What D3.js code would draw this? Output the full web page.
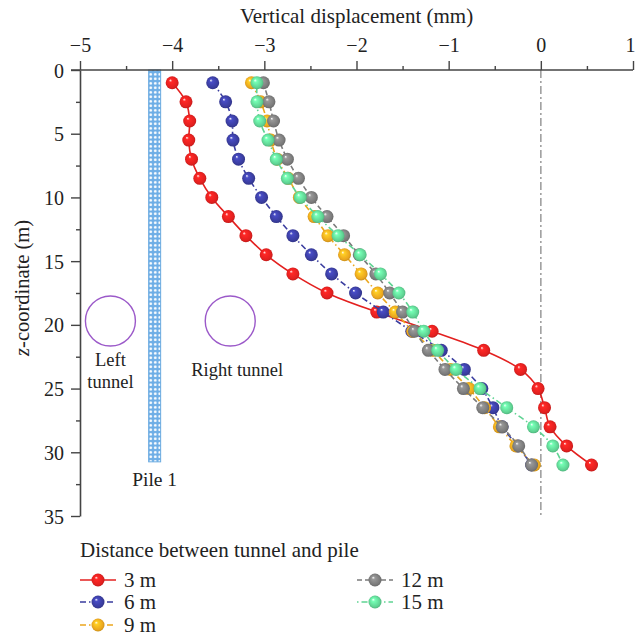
<!DOCTYPE html>
<html>
<head>
<meta charset="utf-8">
<script src="https://cdn.jsdelivr.net/npm/d3@7"></script>
<style>
  body { margin: 0; background: #fff; }
  text { font-family: "Liberation Serif", "Times New Roman", serif; fill: #222; }
</style>
</head>
<body>
<svg id="chart" width="636" height="640"></svg>
<script>
// depth of the measuring points (m)
const depth = [1, 2.5, 4, 5.5, 7, 8.5, 10, 11.5, 13, 14.5, 16, 17.5, 19, 20.5, 22, 23.5, 25, 26.5, 28, 29.5, 31];

// vertical displacement (mm) for each tunnel-pile distance
const d3m  = [-4.00, -3.85, -3.81, -3.82, -3.79, -3.70, -3.57, -3.39, -3.20, -2.98, -2.69, -2.32, -1.78, -1.18, -0.62, -0.22, -0.03, 0.04, 0.10, 0.28, 0.55];
const d6m  = [-3.56, -3.42, -3.35, -3.34, -3.28, -3.17, -3.03, -2.87, -2.69, -2.49, -2.27, -2.01, -1.71, -1.40, -1.08, -0.83, -0.64, -0.52, -0.42, -0.25, -0.10];
const d9m  = [-3.14, -3.04, -2.97, -2.93, -2.86, -2.74, -2.62, -2.46, -2.31, -2.13, -1.95, -1.77, -1.58, -1.39, -1.17, -0.98, -0.78, -0.61, -0.45, -0.27, -0.07];
const d12m = [-3.01, -2.95, -2.90, -2.84, -2.75, -2.63, -2.49, -2.32, -2.14, -1.97, -1.79, -1.64, -1.50, -1.37, -1.22, -1.04, -0.84, -0.63, -0.42, -0.24, -0.10];
const d15m = [-3.08, -3.08, -3.05, -2.96, -2.87, -2.75, -2.61, -2.42, -2.20, -1.96, -1.74, -1.54, -1.39, -1.27, -1.12, -0.92, -0.66, -0.37, -0.08, 0.13, 0.24];

const seriesNames = ["3 m", "6 m", "9 m", "12 m", "15 m"];
const seriesValues = [d3m, d6m, d9m, d12m, d15m];

const xTicks = [-5, -4, -3, -2, -1, 0, 1];
const yTicks = [0, 5, 10, 15, 20, 25, 30, 35];

// pile and tunnels (in data units)
const pileX = -4.19, pileHalfWidth = 0.065, pileBottom = 30.75;
const tunnels = [{ name: "Left tunnel", x: -4.67, z: 19.7 }, { name: "Right tunnel", x: -3.37, z: 19.7 }];

const colors = ["#e3201f", "#3a3d9f", "#eba71e", "#7b7b7b", "#5fd393"];
const dashes = [null, "6,3,1.5,3", "6,3,1.5,3", "5,3", "1.5,3,6,3"];

const svg = d3.select("#chart");
const margin = { left: 80, top: 70, right: 3, bottom: 124 };
const width = 636 - margin.left - margin.right;
const height = 640 - margin.top - margin.bottom;

const x = d3.scaleLinear().domain([-5, 1]).range([margin.left, margin.left + width]);
const y = d3.scaleLinear().domain([0, 35]).range([margin.top, margin.top + height]);

const defs = svg.append("defs");

// glossy balls
colors.forEach(function (c, i) {
  const g = defs.append("radialGradient")
    .attr("id", "ball" + i)
    .attr("cx", "50%").attr("cy", "50%").attr("r", "55%")
    .attr("fx", "35%").attr("fy", "30%");
  g.append("stop").attr("offset", "0%").attr("stop-color", "#ffffff");
  g.append("stop").attr("offset", "22%").attr("stop-color", d3.color(c).brighter(0.6));
  g.append("stop").attr("offset", "75%").attr("stop-color", c);
  g.append("stop").attr("offset", "100%").attr("stop-color", d3.color(c).darker(0.6));
});

// dotted fill of the pile
const pat = defs.append("pattern")
  .attr("id", "pileFill")
  .attr("patternUnits", "userSpaceOnUse")
  .attr("width", 4.5).attr("height", 4.5);
pat.append("rect").attr("width", 4.5).attr("height", 4.5).attr("fill", "#6eaee6");
pat.append("circle").attr("cx", 2.25).attr("cy", 2.25).attr("r", 1.4).attr("fill", "#fff");

// zero line
svg.append("line")
  .attr("x1", x(0)).attr("x2", x(0))
  .attr("y1", y(0)).attr("y2", y(35))
  .attr("stroke", "#a0a0a0")
  .attr("stroke-width", 1.6)
  .attr("stroke-dasharray", "8,3,2,3");

// pile
svg.append("rect")
  .attr("x", x(pileX - pileHalfWidth))
  .attr("y", y(0))
  .attr("width", x(pileX + pileHalfWidth) - x(pileX - pileHalfWidth))
  .attr("height", y(pileBottom) - y(0))
  .attr("fill", "url(#pileFill)")
  .attr("stroke", "#6aaae0")
  .attr("stroke-width", 1);

svg.append("text")
  .attr("x", x(pileX))
  .attr("y", y(pileBottom) + 24)
  .attr("text-anchor", "middle")
  .style("font-size", "19.5px")
  .text("Pile 1");

// tunnels
svg.selectAll(".tunnel")
  .data(tunnels)
  .enter()
  .append("circle")
  .attr("class", "tunnel")
  .attr("cx", function (d) { return x(d.x); })
  .attr("cy", function (d) { return y(d.z); })
  .attr("r", 25)
  .attr("fill", "none")
  .attr("stroke", "#9b59c9")
  .attr("stroke-width", 1.4);

svg.append("text")
  .attr("x", x(tunnels[0].x))
  .attr("y", y(tunnels[0].z) + 45)
  .attr("text-anchor", "middle")
  .style("font-size", "18.5px")
  .text("Left");
svg.append("text")
  .attr("x", x(tunnels[0].x))
  .attr("y", y(tunnels[0].z) + 67)
  .attr("text-anchor", "middle")
  .style("font-size", "18.5px")
  .text("tunnel");
svg.append("text")
  .attr("x", x(tunnels[1].x) + 7)
  .attr("y", y(tunnels[1].z) + 55)
  .attr("text-anchor", "middle")
  .style("font-size", "18.5px")
  .text("Right tunnel");

// series
const line = d3.line()
  .x(function (d) { return x(d.v); })
  .y(function (d) { return y(d.z); })
  .curve(d3.curveCatmullRom);

seriesValues.forEach(function (vals, i) {
  const pts = vals.map(function (v, k) { return { v: v, z: depth[k] }; });
  const g = svg.append("g").attr("class", "series");
  g.append("path")
    .datum(pts)
    .attr("d", line)
    .attr("fill", "none")
    .attr("stroke", colors[i])
    .attr("stroke-width", 1.6)
    .attr("stroke-dasharray", dashes[i]);
  g.selectAll("circle")
    .data(pts)
    .enter()
    .append("circle")
    .attr("cx", function (d) { return x(d.v); })
    .attr("cy", function (d) { return y(d.z); })
    .attr("r", 6.5)
    .attr("fill", "url(#ball" + i + ")");
});

// axes
const axisColor = "#444";
const fmt = d3.format("d");

const xMinor = svg.append("g")
  .attr("transform", "translate(0," + margin.top + ")")
  .call(d3.axisTop(x).tickValues(d3.range(-4.5, 1, 1)).tickSize(4).tickFormat(""));
const xAxis = svg.append("g")
  .attr("transform", "translate(0," + margin.top + ")")
  .call(d3.axisTop(x).tickValues(xTicks).tickSize(9).tickSizeOuter(0).tickPadding(9).tickFormat(fmt));

const yMinor = svg.append("g")
  .attr("transform", "translate(" + margin.left + ",0)")
  .call(d3.axisLeft(y).tickValues(d3.range(2.5, 35, 5)).tickSize(4).tickFormat(""));
const yAxis = svg.append("g")
  .attr("transform", "translate(" + margin.left + ",0)")
  .call(d3.axisLeft(y).tickValues(yTicks).tickSize(9).tickSizeOuter(0).tickPadding(7).tickFormat(fmt));

[xMinor, xAxis, yMinor, yAxis].forEach(function (a) {
  a.select(".domain").attr("stroke", axisColor).attr("stroke-width", 1.6);
  a.selectAll(".tick line").attr("stroke", axisColor).attr("stroke-width", 1.4);
  a.selectAll(".tick text")
    .style("font-family", "'Liberation Serif', serif")
    .style("font-size", "20px")
    .attr("fill", "#222");
});
xMinor.select(".domain").remove();
yMinor.select(".domain").remove();
yAxis.selectAll(".tick text").attr("dy", "0.35em");
// keep the last label inside the picture
xAxis.selectAll(".tick text").filter(function (d) { return d === 1; }).attr("dx", -3);
// extend the top axis line to meet the y tick at 0
xAxis.select(".domain").attr("d", "M" + (margin.left - 9) + ",0H" + (margin.left + width));

svg.append("text")
  .attr("x", x(-2))
  .attr("y", 23)
  .attr("text-anchor", "middle")
  .style("font-size", "21px")
  .text("Vertical displacement (mm)");

const yTitle = svg.append("text")
  .attr("transform", "translate(29," + y(17.1) + ") rotate(-90)")
  .attr("text-anchor", "middle")
  .style("font-size", "20.5px");
yTitle.append("tspan").style("font-style", "italic").text("z");
yTitle.append("tspan").text("-coordinate (m)");

// legend
const legend = svg.append("g").attr("class", "legend");
legend.append("text")
  .attr("x", 80)
  .attr("y", 557)
  .style("font-size", "21px")
  .text("Distance between tunnel and pile");

const legendPos = [
  { x: 80, y: 580 }, { x: 80, y: 602 }, { x: 80, y: 625 },
  { x: 357, y: 580 }, { x: 357, y: 602 }
];

seriesNames.forEach(function (name, i) {
  const p = legendPos[i];
  const item = legend.append("g").attr("transform", "translate(" + p.x + "," + p.y + ")");
  item.append("line")
    .attr("x1", 0).attr("x2", 36)
    .attr("stroke", colors[i])
    .attr("stroke-width", 1.6)
    .attr("stroke-dasharray", dashes[i]);
  item.append("circle")
    .attr("cx", 18)
    .attr("r", 6.5)
    .attr("fill", "url(#ball" + i + ")");
  item.append("text")
    .attr("x", 44)
    .attr("dy", "0.35em")
    .style("font-size", "21px")
    .text(name);
});
</script>
</body>
</html>
